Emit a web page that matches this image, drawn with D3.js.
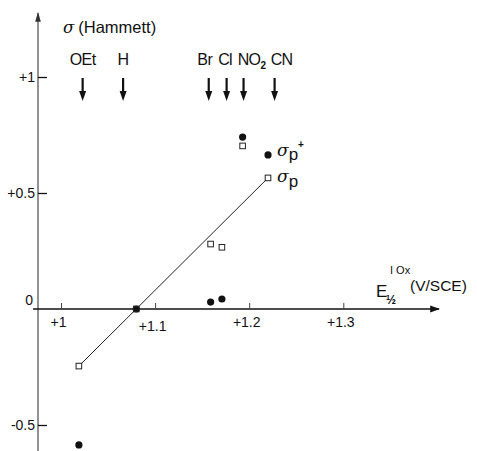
<!DOCTYPE html>
<html><head><meta charset="utf-8">
<script src="https://cdn.jsdelivr.net/npm/d3@7"></script>
<style>
body{margin:0;background:#fff;}
svg{display:block;font-family:"Liberation Sans",Arial,sans-serif;}
</style></head>
<body>
<svg id="c" width="477" height="451"></svg>
<script>
// ---- data ----
const substituents = ["OEt","H","Br","Cl","NO2","CN"];
const potentialE   = [1.019, 1.080, 1.159, 1.171, 1.193, 1.220];   // E1/2 Ox (V/SCE)
const sigmaP       = [-0.246, 0.0, 0.28, 0.266, 0.703, 0.565];     // open squares
const sigmaPplus   = [-0.586, 0.0, 0.03, 0.043, 0.741, 0.664];     // filled dots
const arrowE       = [1.023, 1.066, 1.157, 1.176, 1.194, 1.227];   // label arrows
const fitLineE     = [1.019, 1.220];
const fitLineSigma = [-0.246, 0.565];
const xTicks = [1, 1.1, 1.2, 1.3];
const xTickLabels = ["+1","+1.1","+1.2","+1.3"];
const yTicks = [-0.5, 0, 0.5, 1];
const yTickLabels = ["-0.5","0","+0.5","+1"];

const svg = d3.select("#c");
const x = d3.scaleLinear().domain([1, 1.3]).range([61, 343.3]);
const y = d3.scaleLinear().domain([0, 1]).range([309, 77]);
const yBase = y(0);

// arrow markers
const defs = svg.append("defs");
defs.append("marker").attr("id","ah").attr("viewBox","0 0 10 10").attr("refX",9).attr("refY",5)
  .attr("markerWidth",7).attr("markerHeight",7).attr("orient","auto")
  .append("path").attr("d","M0,1.5L10,5L0,8.5Z").attr("fill","#111");
defs.append("marker").attr("id","ahg").attr("viewBox","0 0 10 10").attr("refX",9).attr("refY",5)
  .attr("markerWidth",6).attr("markerHeight",8).attr("orient","auto")
  .append("path").attr("d","M0,2L10,5L0,8Z").attr("fill","#333");

// y axis line
const yAxisX = 38;
svg.append("line").attr("x1",yAxisX).attr("x2",yAxisX).attr("y1",451).attr("y2",13)
  .attr("stroke","#777").attr("stroke-width",1.6).attr("marker-end","url(#ahg)");
// x axis line
svg.append("line").attr("x1",33).attr("x2",439).attr("y1",yBase).attr("y2",yBase)
  .attr("stroke","#111").attr("stroke-width",1.4).attr("marker-end","url(#ah)");

// y axis ticks
const yAx = d3.axisLeft(y).tickValues(yTicks).tickSizeInner(-9).tickSizeOuter(0).tickPadding(3)
  .tickFormat((d,i)=>yTickLabels[i]);
const gy = svg.append("g").attr("transform",`translate(${yAxisX},0)`).call(yAx);
gy.select(".domain").remove();
gy.selectAll(".tick line").attr("stroke","#111").attr("stroke-width",1.3)
  .filter(d=>d===0).remove();
gy.selectAll(".tick text").attr("font-size",14).attr("fill","#111")
  .filter(d=>d===0).attr("dy","-0.3em").attr("x",-5);

// x axis ticks
const xAx = d3.axisBottom(x).tickValues(xTicks).tickSizeInner(-6).tickSizeOuter(0).tickPadding(8)
  .tickFormat((d,i)=>xTickLabels[i]);
const gx = svg.append("g").attr("transform",`translate(0,${yBase})`).call(xAx);
gx.select(".domain").remove();
gx.selectAll(".tick line").attr("stroke","#444").attr("stroke-width",1);
gx.selectAll(".tick text").attr("font-size",14).attr("fill","#111").attr("dx",-3)
  .filter(d=>d===1.1).attr("dy","1.0em");

// y axis title
const yt = svg.append("text").attr("x",63).attr("y",33).attr("font-size",16.5).attr("fill","#111");
yt.append("tspan").attr("font-family","'DejaVu Serif',serif").attr("font-style","italic").text("σ");
yt.append("tspan").attr("dx",4).text("(Hammett)");

// x axis title
const xt = svg.append("g").attr("fill","#111");
xt.append("text").attr("x",376).attr("y",297).attr("font-size",17).text("E");
xt.append("text").attr("x",386).attr("y",304).attr("font-size",12).attr("font-weight","bold").text("½");
xt.append("text").attr("x",390).attr("y",274).attr("font-size",11).text("I Ox");
xt.append("text").attr("x",410).attr("y",291).attr("font-size",15.5).text("(V/SCE)");

// substituent labels + arrows
const labelShift = {"OEt":0,"H":0,"Br":-4,"Cl":-1.5,"NO2":8,"CN":7};
const subs = svg.append("g");
substituents.forEach((s,i)=>{
  const ax = x(arrowE[i]);
  const t = subs.append("text").attr("x",ax + labelShift[s]).attr("y",65).attr("text-anchor","middle")
    .attr("font-size",16).attr("fill","#111").attr("letter-spacing","-0.6");
  if (s === "NO2") {
    t.append("tspan").text("NO");
    t.append("tspan").attr("font-size",10).attr("font-weight","bold").attr("dy",4).text("2");
  } else t.text(s);
  subs.append("line").attr("x1",ax).attr("x2",ax).attr("y1",78).attr("y2",93)
    .attr("stroke","#111").attr("stroke-width",2.2);
  subs.append("path").attr("d",`M${ax-3.5},91L${ax+3.5},91L${ax},101Z`).attr("fill","#111");
});

// fit line
svg.append("line")
  .attr("x1",x(fitLineE[0])).attr("y1",y(fitLineSigma[0]))
  .attr("x2",x(fitLineE[1])).attr("y2",y(fitLineSigma[1]))
  .attr("stroke","#222").attr("stroke-width",1);

// dots (sigma p+)
svg.append("g").selectAll("circle").data(potentialE).join("circle")
  .attr("cx",d=>x(d)).attr("cy",(d,i)=>y(sigmaPplus[i])).attr("r",3.6).attr("fill","#111");

// squares (sigma p)
svg.append("g").selectAll("rect").data(potentialE).join("rect")
  .attr("x",d=>x(d)-2.8).attr("y",(d,i)=>y(sigmaP[i])-2.8).attr("width",5.6).attr("height",5.6)
  .attr("fill",(d,i)=>sigmaP[i]===0?"none":"#fff").attr("stroke","#222").attr("stroke-width",1);

// series labels
const l1 = svg.append("text").attr("x",x(potentialE[5])+9).attr("y",y(sigmaPplus[5])+1).attr("font-size",17).attr("fill","#111");
l1.append("tspan").attr("font-family","'DejaVu Serif',serif").attr("font-style","italic").text("σ");
l1.append("tspan").attr("dy",4).text("p");
l1.append("tspan").attr("dy",-12).attr("dx",0).attr("font-size",10).attr("font-weight","bold").text("+");
const l2 = svg.append("text").attr("x",x(potentialE[5])+9).attr("y",y(sigmaP[5])+4).attr("font-size",17).attr("fill","#111");
l2.append("tspan").attr("font-family","'DejaVu Serif',serif").attr("font-style","italic").text("σ");
l2.append("tspan").attr("dy",5).text("p");
</script>
</body></html>
